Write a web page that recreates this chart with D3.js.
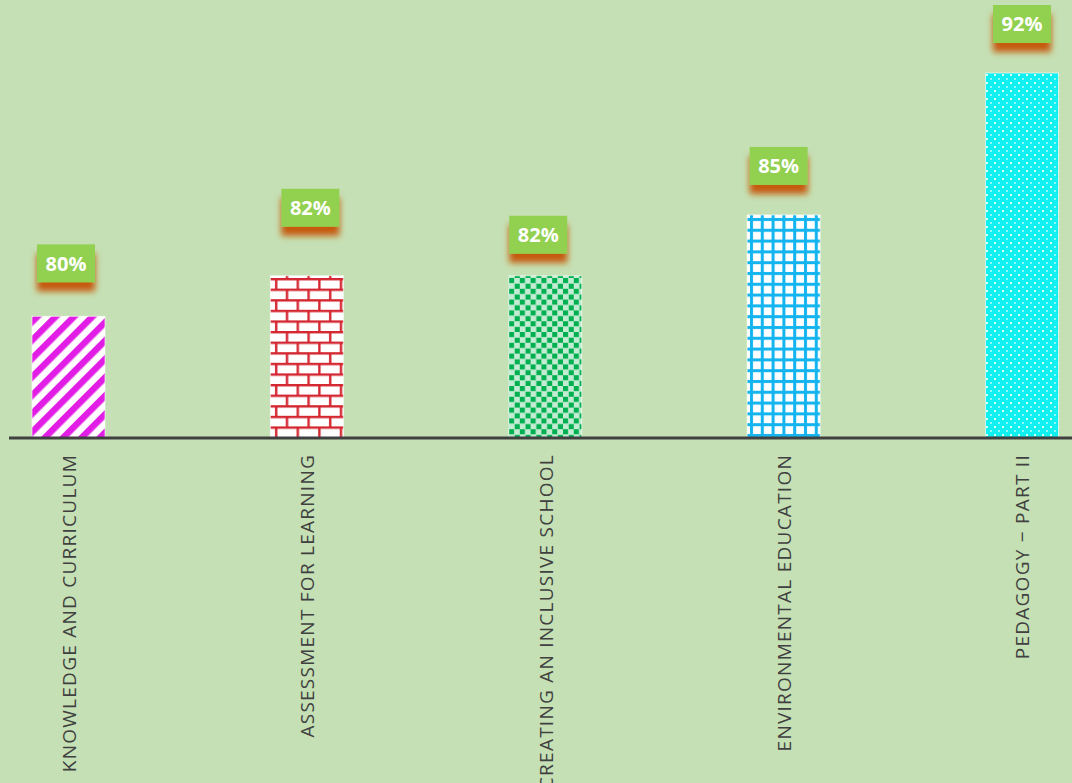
<!DOCTYPE html>
<html>
<head>
<meta charset="utf-8">
<script src="https://cdn.jsdelivr.net/npm/d3@7"></script>
<style>
  html, body { margin: 0; padding: 0; background: #c5e0b4; }
  svg { display: block; }
</style>
</head>
<body>
<svg id="chart" width="1072" height="783"></svg>
<script>
// ---- data ----
const categories = [
  "KNOWLEDGE AND CURRICULUM",
  "ASSESSMENT FOR LEARNING",
  "CREATING AN INCLUSIVE SCHOOL",
  "ENVIRONMENTAL EDUCATION",
  "PEDAGOGY \u2212 PART II"
];
const values = [80, 82, 82, 85, 92];
const valueLabels = ["80%", "82%", "82%", "85%", "92%"];
// manual nudges of the data-label boxes (dx, extra gap above bar)
const labelNudgeX = [-2.5, 3.5, -7, -5, 0];
const labelGap = [34, 49, 22, 30, 30];

// ---- layout ----
const W = 1072, H = 783;
const baseY = 438;
const svg = d3.select("#chart");

const x = d3.scalePoint().domain(categories).range([68.5, 1022]);
const y = d3.scaleLinear().domain([74, 92]).range([baseY, 73]);
const barW = 73;

const defs = svg.append("defs");

// pattern 1: magenta diagonal stripes
const p1 = defs.append("pattern").attr("id", "pat0").attr("patternUnits", "userSpaceOnUse")
  .attr("width", 13).attr("height", 13).attr("patternTransform", "rotate(45)");
p1.append("rect").attr("width", 13).attr("height", 13).attr("fill", "#ffffff");
p1.append("rect").attr("width", 6.5).attr("height", 13).attr("fill", "#e21de6");

// pattern 2: red bricks
const bw = 21.6, bh = 10.6;
const p2 = defs.append("pattern").attr("id", "pat1").attr("patternUnits", "userSpaceOnUse")
  .attr("width", bw).attr("height", bh * 2).attr("x", 270).attr("y", 278);
p2.append("rect").attr("width", bw).attr("height", bh * 2).attr("fill", "#ffffff");
const brickColor = "#d42630";
p2.append("rect").attr("x", 0).attr("y", 0).attr("width", bw).attr("height", 2.4).attr("fill", brickColor);
p2.append("rect").attr("x", 0).attr("y", bh).attr("width", bw).attr("height", 2.4).attr("fill", brickColor);
p2.append("rect").attr("x", 5).attr("y", 0).attr("width", 2.4).attr("height", bh).attr("fill", brickColor);
p2.append("rect").attr("x", 5 + bw / 2).attr("y", bh).attr("width", 2.4).attr("height", bh).attr("fill", brickColor);

// pattern 3: green checkerboard
const cs = 5.4;
const p3 = defs.append("pattern").attr("id", "pat2").attr("patternUnits", "userSpaceOnUse")
  .attr("width", cs * 2).attr("height", cs * 2).attr("x", 509).attr("y", 278);
p3.append("rect").attr("width", cs * 2).attr("height", cs * 2).attr("fill", "#ffffff");
p3.append("rect").attr("width", cs).attr("height", cs).attr("fill", "#00b050");
p3.append("rect").attr("x", cs).attr("y", cs).attr("width", cs).attr("height", cs).attr("fill", "#00b050");
p3.append("rect").attr("x", cs).attr("y", 0).attr("width", cs).attr("height", cs).attr("fill", "#c4ecd2");
p3.append("rect").attr("x", 0).attr("y", cs).attr("width", cs).attr("height", cs).attr("fill", "#c4ecd2");

// pattern 4: blue grid
const gs = 10.8;
const p4 = defs.append("pattern").attr("id", "pat3").attr("patternUnits", "userSpaceOnUse")
  .attr("width", gs).attr("height", gs).attr("x", 748).attr("y", 216);
p4.append("rect").attr("width", gs).attr("height", gs).attr("fill", "#ffffff");
p4.append("rect").attr("x", 2).attr("width", 3).attr("height", gs).attr("fill", "#12b4f0");
p4.append("rect").attr("y", 2).attr("width", gs).attr("height", 3).attr("fill", "#12b4f0");

// pattern 5: cyan with light crosses
const ds = 8;
const p5 = defs.append("pattern").attr("id", "pat4").attr("patternUnits", "userSpaceOnUse")
  .attr("width", ds).attr("height", ds).attr("x", 986).attr("y", 74);
p5.append("rect").attr("width", ds).attr("height", ds).attr("fill", "#10f0f0");
p5.append("rect").attr("x", 0).attr("y", 0).attr("width", 2).attr("height", 2).attr("fill", "#d8ffff");
p5.append("rect").attr("x", 4).attr("y", 4).attr("width", 2).attr("height", 2).attr("fill", "#8ef8f8");

// shadow filter for labels
const f = defs.append("filter").attr("id", "lblShadow")
  .attr("x", "-40%").attr("y", "-40%").attr("width", "180%").attr("height", "200%");
f.append("feDropShadow").attr("dx", 0).attr("dy", 9).attr("stdDeviation", 3.2)
  .attr("flood-color", "#c55a11").attr("flood-opacity", 1);

// ---- bars ----
svg.append("g").selectAll("rect").data(values).join("rect")
  .attr("x", (d, i) => x(categories[i]) - barW / 2)
  .attr("y", d => y(d))
  .attr("width", barW)
  .attr("height", d => baseY - y(d))
  .attr("fill", (d, i) => `url(#pat${i})`)
  .attr("stroke", "#ffffff")
  .attr("stroke-opacity", 0.6)
  .attr("stroke-width", 1);

// ---- baseline axis ----
const xAxis = d3.axisBottom(x).tickSize(0).tickPadding(0);
const axisG = svg.append("g").attr("transform", `translate(0,${baseY})`).call(xAxis);
axisG.select(".domain").remove();
axisG.selectAll("text")
  .attr("transform", "rotate(-90)")
  .attr("text-anchor", "end")
  .attr("dy", "0.36em")
  .attr("x", -16)
  .attr("y", 0)
  .attr("fill", "#404040")
  .style("font-family", "'Open Sans', sans-serif")
  .style("font-size", "19px")
  .style("letter-spacing", "1.25px");
svg.append("line")
  .attr("x1", 9).attr("x2", W)
  .attr("y1", baseY).attr("y2", baseY)
  .attr("stroke", "#404040").attr("stroke-width", 3);

// ---- data labels ----
const boxW = 58, boxH = 38;
const lbl = svg.append("g").selectAll("g").data(values).join("g")
  .attr("transform", (d, i) => {
    const cx = x(categories[i]) + labelNudgeX[i];
    const by = y(d) - labelGap[i] - boxH;
    return `translate(${cx - boxW / 2},${by})`;
  });
lbl.append("rect")
  .attr("width", boxW).attr("height", boxH)
  .attr("fill", "#92d050")
  .attr("filter", "url(#lblShadow)");
lbl.append("text")
  .attr("x", boxW / 2).attr("y", boxH / 2)
  .attr("dy", "0.36em")
  .attr("text-anchor", "middle")
  .attr("fill", "#ffffff")
  .style("font-family", "'Open Sans', sans-serif")
  .style("font-weight", "bold")
  .style("font-size", "20px")
  .text((d, i) => valueLabels[i]);
</script>
</body>
</html>
